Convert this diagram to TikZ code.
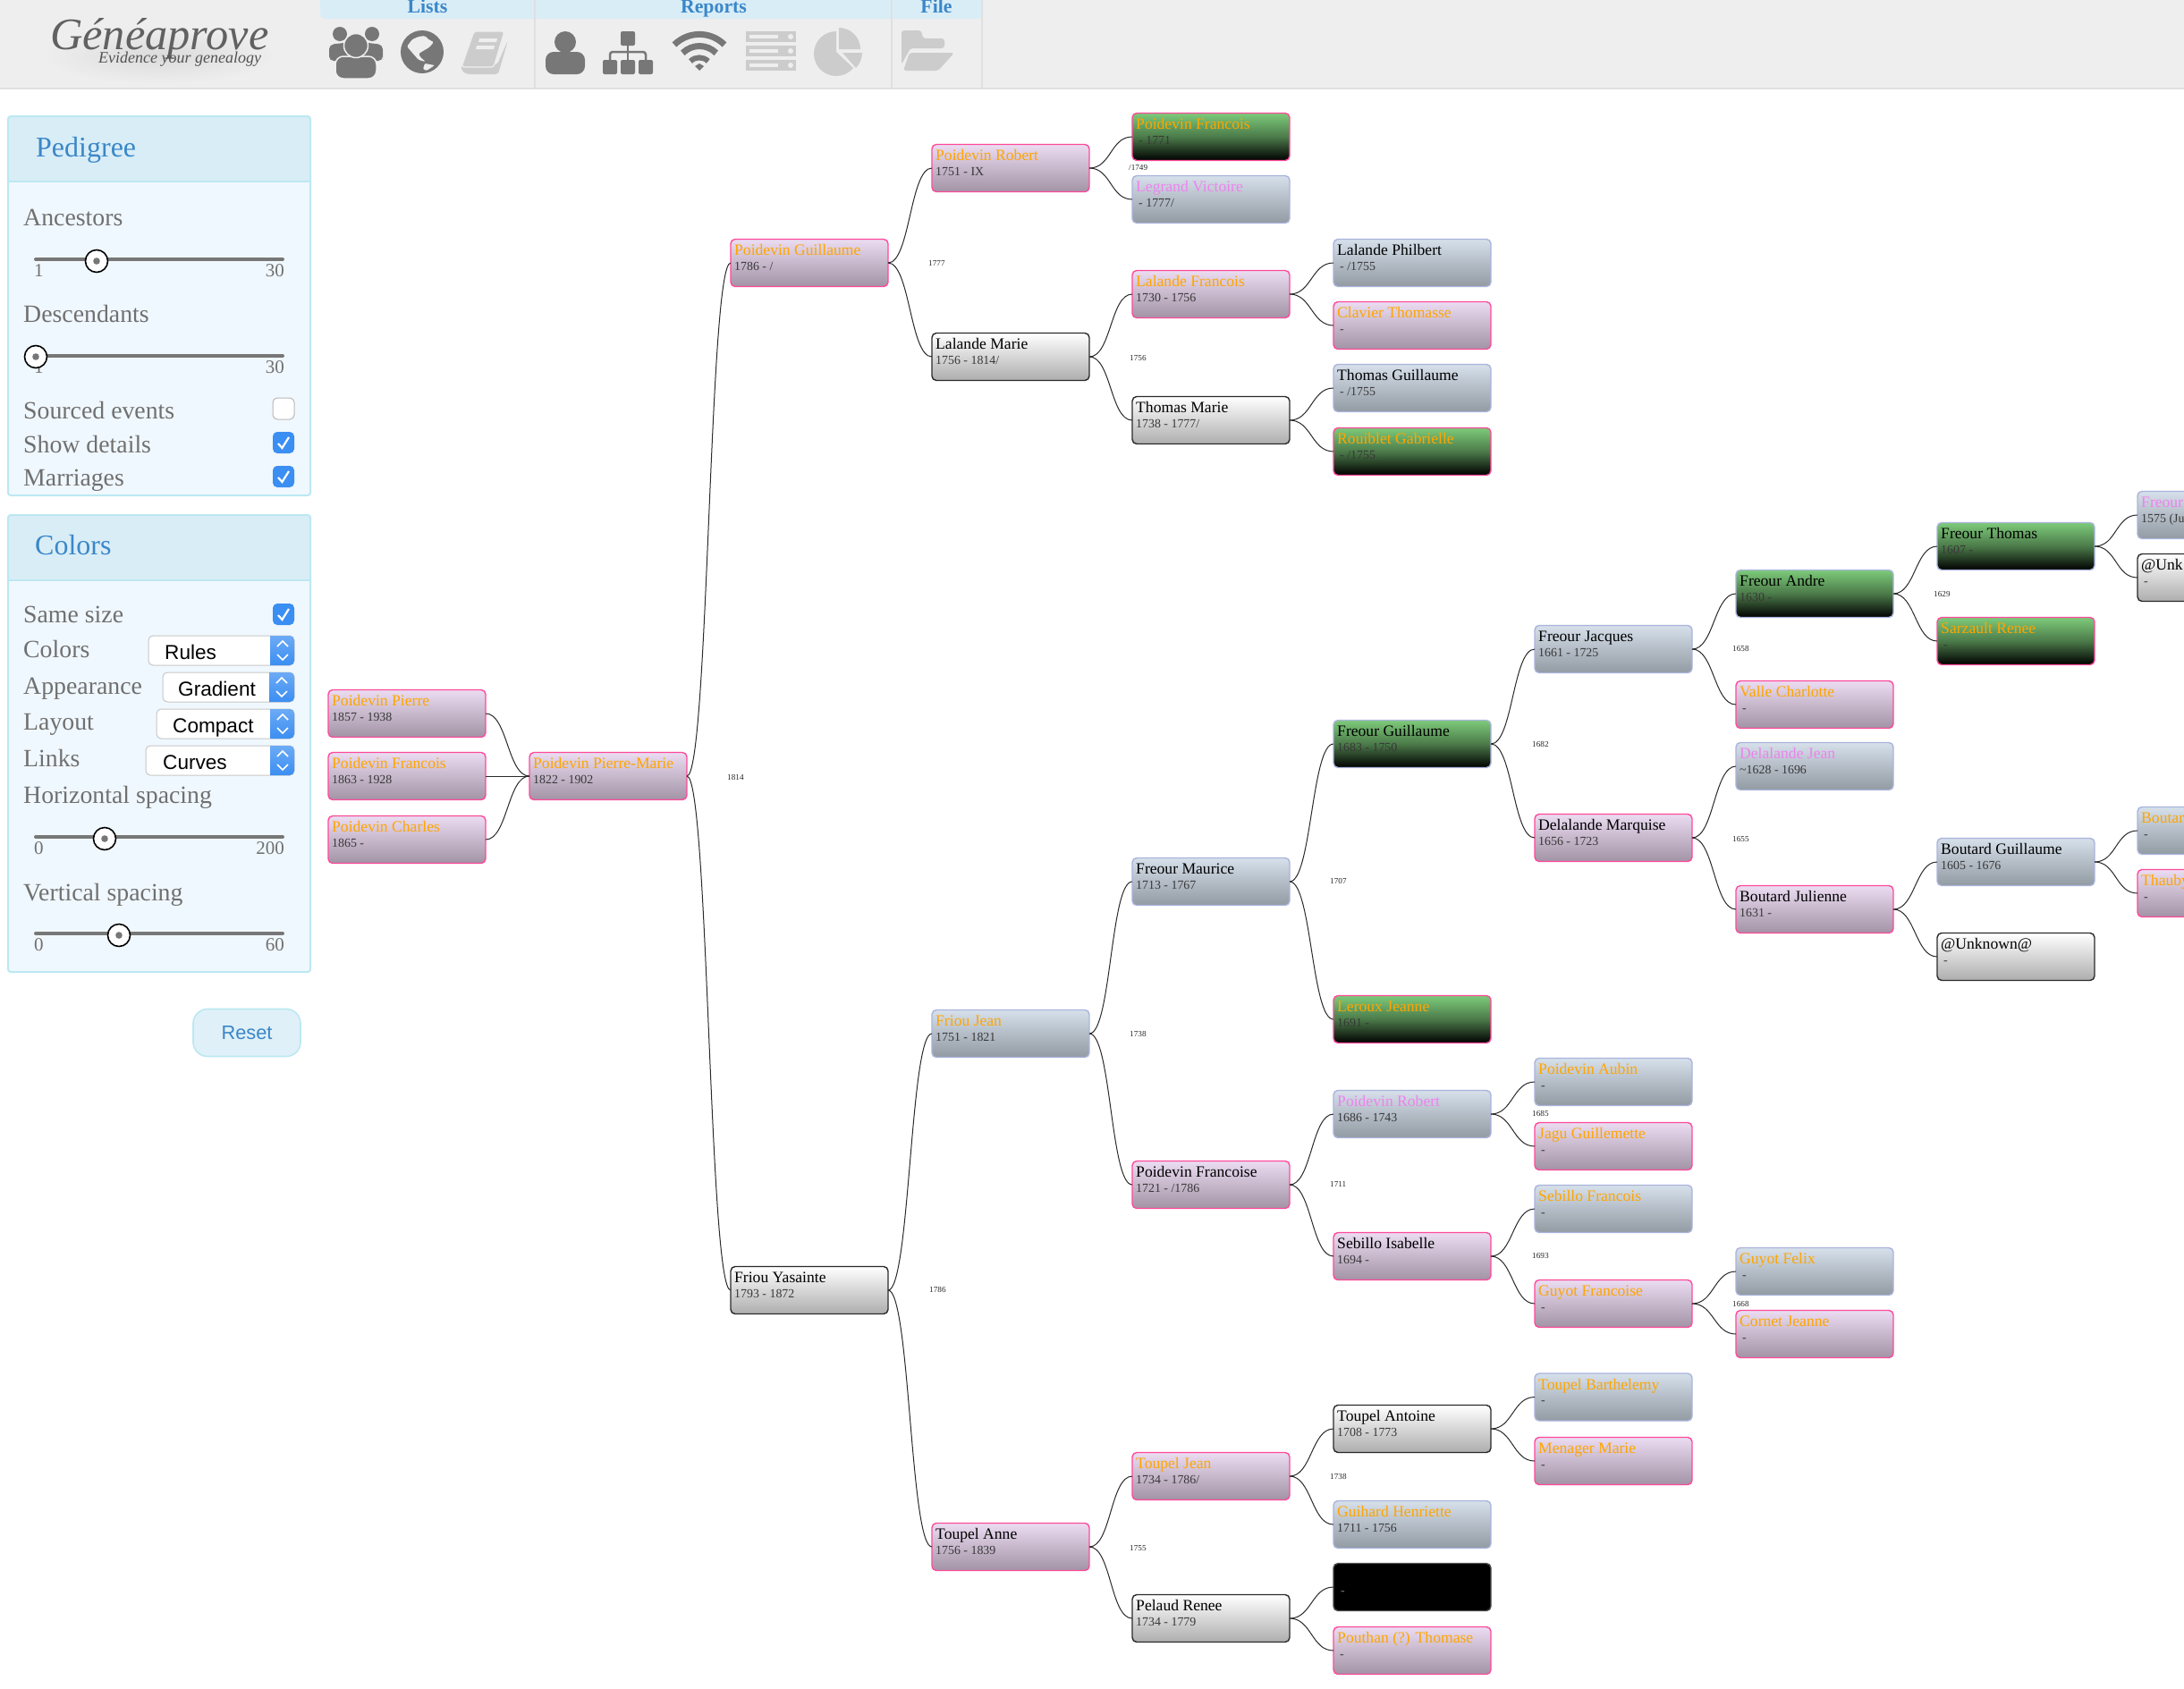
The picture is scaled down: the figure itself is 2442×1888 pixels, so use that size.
\documentclass[tikz,border=0pt]{standalone}
\usepackage{fontspec}
\setmainfont{Liberation Serif}
\newfontfamily\uisans{Liberation Sans}
\newcommand{\fsz}[1]{\fontsize{#1pt}{#1pt}\selectfont}
\newcommand{\ind}{\kern3pt}
\definecolor{tabblue}{HTML}{D9EDF7}
\definecolor{panelbg}{HTML}{F0F8FF}
\definecolor{panelln}{HTML}{BCE8F1}
\definecolor{linkblue}{HTML}{3A87C8}
\definecolor{hdrbg}{HTML}{EEEEEE}
\definecolor{hdrln}{HTML}{E0E0E0}
\definecolor{icodark}{HTML}{777777}
\definecolor{icolite}{HTML}{CCCCCC}
\definecolor{uitext}{HTML}{707070}
\definecolor{cbblue}{HTML}{3B8EF2}
\definecolor{orng}{HTML}{FFA500}
\definecolor{viol}{HTML}{EE82EE}
\definecolor{pinkln}{HTML}{FF4A9A}
\definecolor{lavln}{HTML}{AAB4DC}
\definecolor{purtop}{HTML}{EBDCF2}
\definecolor{purbot}{HTML}{A293A5}
\definecolor{blutop}{HTML}{D6E0EB}
\definecolor{blubot}{HTML}{929AA2}
\definecolor{grntop}{HTML}{7DCB7A}
\definecolor{lnk}{HTML}{2A2A2A}
\tikzset{
  base box/.style={rectangle,rounded corners=5pt,minimum width=176pt,minimum height=53pt,inner sep=0pt,outer sep=0pt,line width=1.4pt,anchor=west},
  pkbox/.style={base box,draw=pinkln,top color=purtop,bottom color=purbot},
  blbox/.style={base box,draw=lavln,top color=blutop,bottom color=blubot},
  gybox/.style={base box,draw=lnk,top color=white,bottom color=black!32},
  grp/.style={base box,draw=pinkln,top color=grntop,bottom color=black,middle color=grntop!60!black},
  grb/.style={base box,draw=lavln,top color=grntop,bottom color=black,middle color=grntop!60!black},
  blk/.style={base box,draw=black!70,fill=black},
  nametxt/.style={inner sep=0pt,anchor=base west,font=\fsz{17.6}},
  datetxt/.style={inner sep=0pt,anchor=base west,font=\fsz{13.9},text=black!78},
  mtxt/.style={inner sep=0pt,anchor=base west,font=\fsz{9.2},text=black!85},
  link/.style={draw=lnk,line width=1pt},
  ui/.style={inner sep=0pt,anchor=base west,text=uitext,font=\fsz{27.8}},
  uis/.style={inner sep=0pt,text=uitext,font=\fsz{21}},
  ptitle/.style={inner sep=0pt,anchor=base west,text=linkblue,font=\fsz{32}},
  tabt/.style={inner sep=0pt,anchor=base,text=linkblue,font=\bfseries\fsz{21.8}},
  seltxt/.style={inner sep=0pt,anchor=base west,text=black,font=\uisans\fsz{22.6}},
  panelbox/.style={draw=panelln,line width=2pt,rounded corners=3pt},
}
% person box: id, left x, centre y, style, name colour, name, date
\newcommand{\pb}[7]{%
  \node[#4] (#1) at (#2,#3) {};
  \node[nametxt,text=#5] (#1n) at (#2+4,#3-8.5) {#6};
  \node[datetxt] (#1d) at (#2+4,#3+8) {#7};
}
\newcommand{\lk}[2]{\draw[link] (#1.east) .. controls +(24.5,0) and +(-24.5,0) .. (#2.west);}
\newcommand{\mg}[4]{\node[mtxt] (#1) at (#2,#3+4.5) {#4};}
\newcommand{\slid}[7]{% id,tracky,knobx,knoby,labely,lo,hi
  \draw[icodark,line width=4pt,line cap=round] (40,#2) -- (316,#2);
  \node[uis,anchor=base west] (#1lo) at (38,#5) {#6};
  \node[uis,anchor=base east] (#1hi) at (318,#5) {#7};
  \filldraw[fill=white,draw=black,line width=1.6pt] (#3,#4) circle[radius=12.5pt];
  \fill[icodark] (#3,#4) circle[radius=3.8pt];
}
\newcommand{\chk}[2]{% top y, on/off
  \ifnum#2=1
   \fill[cbblue,rounded corners=5pt] (305,#1) rectangle (329,#1+24);
   \draw[white,line width=2.2pt] (311,#1+13) -- (315.5,#1+18) -- (323,#1+6);
  \else
   \filldraw[fill=white,draw=black!28,line width=1pt,rounded corners=5pt] (305,#1) rectangle (329,#1+24);
  \fi
}
\newcommand{\sel}[6]{% id,left x,top y,bluex,textx,text ; height 33
  \filldraw[fill=white,draw=black!22,line width=1pt,rounded corners=5pt] (#2,#3) rectangle (329,#3+33);
  \shade[top color=cbblue!75,bottom color=cbblue!100!black] (#4,#3) [rounded corners=5pt] -- (329,#3) -- (329,#3+33) [sharp corners] -- (#4,#3+33) -- cycle;
  \draw[white,line width=1.6pt] (#4+8,#3+12) -- (#4+14,#3+6) -- (#4+20,#3+12);
  \draw[white,line width=1.6pt] (#4+8,#3+21) -- (#4+14,#3+27) -- (#4+20,#3+21);
  \node[seltxt] (#1) at (#5,#3+26) {#6};
}
\begin{document}
\begin{tikzpicture}[x=1pt,y=-1pt]
\useasboundingbox (0,0) rectangle (2442,1888);
\clip (0,0) rectangle (2442,1888);
\fill[white] (0,0) rectangle (2442,1888);
% ---------- header
\fill[hdrbg] (0,0) rectangle (2442,98);
\fill[hdrln] (0,98) rectangle (2442,100);
\fill[tabblue,rounded corners=6pt] (358,-10) rectangle (1099,21);
\draw[hdrln,line width=1.5pt] (598,0) -- (598,98);
\draw[hdrln,line width=1.5pt] (997,0) -- (997,98);
\draw[hdrln,line width=1.5pt] (1098,0) -- (1098,98);
\node[tabt] (tabLists) at (478,14) {Lists};
\node[tabt] (tabReports) at (798,14) {Reports};
\node[tabt] (tabFile) at (1047,14) {File};
% logo
\shade[inner color=black!14,outer color=hdrbg] (178,62) ellipse[x radius=130pt,y radius=32pt];
\node[inner sep=0pt,anchor=base west,text=black!62,font=\itshape\fsz{50.4}] (logo) at (56,55) {Généaprove};
\node[inner sep=0pt,anchor=base west,text=black!68,font=\itshape\fsz{18}] (logosub) at (110,70) {Evidence your genealogy};
% people icon
\fill[icodark] (380,38) circle[radius=8pt];
\fill[icodark] (416,38) circle[radius=8pt];
\fill[icodark,rounded corners=5pt] (368,68) -- (368,50) -- (392,47) -- (404,47) -- (428,50) -- (428,62) -- (428,68) -- cycle;
\filldraw[fill=icodark,draw=hdrbg,line width=1.5pt,rounded corners=9pt] (375,88) -- (375,63) -- (421,63) -- (421,88) -- cycle;
\filldraw[fill=icodark,draw=hdrbg,line width=1.5pt] (398,51) circle[radius=13.5pt];
% globe icon
\fill[icodark] (472,58) circle[radius=24pt];
\fill[hdrbg,rounded corners=1.5pt] (455,52) -- (461,44) -- (468,41) -- (475,40) -- (479,44) -- (485,47) -- (480,53) -- (473,57) -- (468,60) -- (470,64) -- (476,69) -- (468,67) -- (461,59) -- cycle;
\fill[hdrbg,rounded corners=1pt] (475,71) -- (486,73) -- (477,79) -- (473,77) -- cycle;
% book icon
\fill[icolite,rounded corners=3pt] (568,45) -- (557,83) -- (522,83) -- (516,79) -- (516,72) -- (556,72) -- cycle;
\filldraw[fill=icolite,draw=hdrbg,line width=1.2pt,rounded corners=3pt] (530,35) -- (564,35) -- (552,75) -- (516,75) -- cycle;
\fill[hdrbg] (536,43) -- (556,43) -- (555,47) -- (535,47) -- cycle;
\fill[hdrbg] (533,51) -- (553,51) -- (552,55) -- (532,55) -- cycle;
% person icon
\fill[icodark] (632,47) circle[radius=12pt];
\fill[icodark,rounded corners=9pt] (610,83) -- (610,58) -- (654,58) -- (654,83) -- cycle;
% org icon
\fill[icodark,rounded corners=2pt] (694,35) rectangle (710,51);
\fill[icodark,rounded corners=2pt] (674,67) rectangle (690,83);
\fill[icodark,rounded corners=2pt] (694,67) rectangle (710,83);
\fill[icodark,rounded corners=2pt] (714,67) rectangle (730,83);
\draw[icodark,line width=2.5pt] (702,50) -- (702,68);
\draw[icodark,line width=2.5pt,rounded corners=3pt] (682,68) -- (682,58) -- (722,58) -- (722,68);
% wifi icon
\draw[icodark,line width=7pt] (754,50) arc[start angle=135,end angle=45,radius=39.6pt];
\draw[icodark,line width=7pt] (763.3,59.3) arc[start angle=135,end angle=45,radius=26.5pt];
\draw[icodark,line width=6pt] (772,68.5) arc[start angle=135,end angle=45,radius=14pt];
\fill[icodark] (777,74) -- (782,71) -- (787,74) -- (782,79) -- cycle;
% server icon
\foreach \ry in {35,51,67}{
  \fill[icolite] (834,\ry) rectangle (890,\ry+12);
  \fill[hdrbg] (838,\ry+4) rectangle (870,\ry+8);
  \fill[hdrbg] (884,\ry+6) circle[radius=3pt];
}
% pie icon
\fill[icolite] (935,35) arc[start angle=90,end angle=270,radius=25pt] arc[start angle=270,end angle=320,radius=25pt] -- (935,58) -- cycle;
\fill[icolite] (938,31) arc[start angle=90,end angle=0,radius=24pt] -- (938,55) -- cycle;
\fill[icolite] (942,59) -- (964,59) arc[start angle=0,end angle=-45,radius=24pt] -- cycle;
% folder icon
\fill[icolite,rounded corners=3pt] (1008,72) -- (1008,34) -- (1030,34) -- (1032,43) -- (1056,43) -- (1056,54) -- (1018,54) -- cycle;
\fill[icolite,rounded corners=3pt] (1017,59) -- (1067,59) -- (1049,79) -- (1010,79) -- cycle;
% ---------- pedigree panel
\fill[panelbg,rounded corners=3pt] (9,130) rectangle (347,554);
\fill[tabblue,rounded corners=3pt] (9,130) rectangle (347,203);
\draw[panelln,line width=2pt] (9,203) -- (347,203);
\draw[panelbox] (9,130) rectangle (347,554);
\node[ptitle] (tPed) at (40,175) {Pedigree};
\node[ui] (lAnc) at (26,252) {Ancestors};
\slid{sa}{290}{108}{292}{309}{1}{30}
\node[ui] (lDes) at (26,360) {Descendants};
\slid{sd}{398}{40}{399}{417}{1}{30}
\node[ui] (lSrc) at (26,468) {Sourced events};
\chk{445}{0}
\node[ui] (lShw) at (26,506) {Show details};
\chk{483}{1}
\node[ui] (lMar) at (26,543) {Marriages};
\chk{521}{1}
% ---------- colors panel
\fill[panelbg,rounded corners=3pt] (9,576) rectangle (347,1087);
\fill[tabblue,rounded corners=3pt] (9,576) rectangle (347,649);
\draw[panelln,line width=2pt] (9,649) -- (347,649);
\draw[panelbox] (9,576) rectangle (347,1087);
\node[ptitle] (tCol) at (39,620) {Colors};
\node[ui] (lSame) at (26,696) {Same size};
\chk{675}{1}
\node[ui] (lCol) at (26,735) {Colors};
\sel{sR}{166}{711}{302}{184}{Rules}
\node[ui] (lApp) at (26,776) {Appearance};
\sel{sG}{182}{752}{301}{199}{Gradient}
\node[ui] (lLay) at (26,816) {Layout};
\sel{sC}{175}{793}{302}{193}{Compact}
\node[ui] (lLnk) at (26,857) {Links};
\sel{sL}{163}{834}{302}{182}{Curves}
\node[ui] (lHor) at (26,898) {Horizontal spacing};
\slid{sh}{936}{117}{938}{955}{0}{200}
\node[ui] (lVer) at (26,1007) {Vertical spacing};
\slid{sv}{1044}{133}{1046}{1063}{0}{60}
\node[draw=panelln,fill=tabblue!85!white,line width=1.6pt,rounded corners=16pt,minimum width=120pt,minimum height=53pt,inner sep=0pt,text=linkblue,font=\uisans\fsz{21.8}] (reset) at (276,1155) {Reset};
% ---------- persons
\pb{Pa}{367}{798}{pkbox}{orng}{Poidevin Pierre}{1857 - 1938}
\pb{Pb}{367}{868}{pkbox}{orng}{Poidevin Francois}{1863 - 1928}
\pb{Pc}{367}{939}{pkbox}{orng}{Poidevin Charles}{1865 -}
\pb{PM}{592}{868}{pkbox}{orng}{Poidevin Pierre-Marie}{1822 - 1902}
\pb{PG}{817}{294}{pkbox}{orng}{Poidevin Guillaume}{1786 - /}
\pb{FY}{817}{1443}{gybox}{black}{Friou Yasainte}{1793 - 1872}
\pb{PR}{1042}{188}{pkbox}{orng}{Poidevin Robert}{1751 - IX}
\pb{LM}{1042}{399}{gybox}{black}{Lalande Marie}{1756 - 1814/}
\pb{FJ}{1042}{1156}{blbox}{orng}{Friou Jean}{1751 - 1821}
\pb{TA}{1042}{1730}{pkbox}{black}{Toupel Anne}{1756 - 1839}
\pb{PF}{1266}{153}{grp}{orng}{Poidevin Francois}{\ind - 1771}
\pb{LV}{1266}{223}{blbox}{viol}{Legrand Victoire}{\ind - 1777/}
\pb{LF}{1266}{329}{pkbox}{orng}{Lalande Francois}{1730 - 1756}
\pb{TM}{1266}{470}{gybox}{black}{Thomas Marie}{1738 - 1777/}
\pb{FM}{1266}{986}{blbox}{black}{Freour Maurice}{1713 - 1767}
\pb{Pf}{1266}{1325}{pkbox}{black}{Poidevin Francoise}{1721 - /1786}
\pb{TJ}{1266}{1651}{pkbox}{orng}{Toupel Jean}{1734 - 1786/}
\pb{PE}{1266}{1810}{gybox}{black}{Pelaud Renee}{1734 - 1779}
\pb{LP}{1491}{294}{blbox}{black}{Lalande Philbert}{\ind - /1755}
\pb{CT}{1491}{364}{pkbox}{orng}{Clavier Thomasse}{\ind -}
\pb{TG}{1491}{434}{blbox}{black}{Thomas Guillaume}{\ind - /1755}
\pb{RG}{1491}{505}{grp}{orng}{Rouiblet Gabrielle}{\ind - /1755}
\pb{FG}{1491}{832}{grb}{black}{Freour Guillaume}{1683 - 1750}
\pb{LJ}{1491}{1140}{grp}{orng}{Leroux Jeanne}{1691 -}
\pb{RR}{1491}{1246}{blbox}{viol}{Poidevin Robert}{1686 - 1743}
\pb{SI}{1491}{1405}{pkbox}{black}{Sebillo Isabelle}{1694 -}
\pb{TN}{1491}{1598}{gybox}{black}{Toupel Antoine}{1708 - 1773}
\pb{GH}{1491}{1705}{blbox}{orng}{Guihard Henriette}{1711 - 1756}
\node[blk] (BK) at (1491,1775) {};
\node[datetxt,text=black!50] (BKd) at (1499,1783) {-};
\pb{PT}{1491}{1846}{pkbox}{orng}{Pouthan (?) Thomase}{\ind -}
\pb{FZ}{1716}{726}{blbox}{black}{Freour Jacques}{1661 - 1725}
\pb{DM}{1716}{937}{pkbox}{black}{Delalande Marquise}{1656 - 1723}
\pb{PA}{1716}{1210}{blbox}{orng}{Poidevin Aubin}{\ind -}
\pb{JG}{1716}{1282}{pkbox}{orng}{Jagu Guillemette}{\ind -}
\pb{SF}{1716}{1352}{blbox}{orng}{Sebillo Francois}{\ind -}
\pb{GF}{1716}{1458}{pkbox}{orng}{Guyot Francoise}{\ind -}
\pb{TB}{1716}{1562.5}{blbox}{orng}{Toupel Barthelemy}{\ind -}
\pb{MM}{1716}{1634}{pkbox}{orng}{Menager Marie}{\ind -}
\pb{FA}{1941}{664}{grb}{black}{Freour Andre}{1630 -}
\pb{VC}{1941}{788}{pkbox}{orng}{Valle Charlotte}{\ind -}
\pb{DJ}{1941}{857}{blbox}{viol}{Delalande Jean}{\textasciitilde 1628 - 1696}
\pb{BJ}{1941}{1017}{pkbox}{black}{Boutard Julienne}{1631 -}
\pb{GX}{1941}{1422}{blbox}{orng}{Guyot Felix}{\ind -}
\pb{CJ}{1941}{1492}{pkbox}{orng}{Cornet Jeanne}{\ind -}
\pb{FT}{2166}{611}{grb}{black}{Freour Thomas}{1607 -}
\pb{SR}{2166}{717}{grp}{orng}{Sarzault Renee}{\ind -}
\pb{BG}{2166}{964}{blbox}{black}{Boutard Guillaume}{1605 - 1676}
\pb{UU}{2166}{1070}{gybox}{black}{@Unknown@}{\ind -}
\pb{FR}{2390}{576}{blbox}{viol}{Freour}{1575 (Ju}
\pb{UV}{2390}{646}{gybox}{black}{@Unk}{\ind -}
\pb{BO}{2390}{929}{blbox}{orng}{Boutar}{\ind -}
\pb{TH}{2390}{999}{pkbox}{orng}{Thauby}{\ind -}
% ---------- links
\lk{Pa}{PM}\lk{Pb}{PM}\lk{Pc}{PM}
\lk{PM}{PG}\lk{PM}{FY}
\lk{PG}{PR}\lk{PG}{LM}
\lk{FY}{FJ}\lk{FY}{TA}
\lk{PR}{PF}\lk{PR}{LV}
\lk{LM}{LF}\lk{LM}{TM}
\lk{FJ}{FM}\lk{FJ}{Pf}
\lk{TA}{TJ}\lk{TA}{PE}
\lk{LF}{LP}\lk{LF}{CT}
\lk{TM}{TG}\lk{TM}{RG}
\lk{FM}{FG}\lk{FM}{LJ}
\lk{Pf}{RR}\lk{Pf}{SI}
\lk{TJ}{TN}\lk{TJ}{GH}
\lk{PE}{BK}\lk{PE}{PT}
\lk{FG}{FZ}\lk{FG}{DM}
\lk{RR}{PA}\lk{RR}{JG}
\lk{SI}{SF}\lk{SI}{GF}
\lk{TN}{TB}\lk{TN}{MM}
\lk{FZ}{FA}\lk{FZ}{VC}
\lk{DM}{DJ}\lk{DM}{BJ}
\lk{GF}{GX}\lk{GF}{CJ}
\lk{FA}{FT}\lk{FA}{SR}
\lk{BJ}{BG}\lk{BJ}{UU}
\lk{FT}{FR}\lk{FT}{UV}
\lk{BG}{BO}\lk{BG}{TH}
% ---------- marriage years
\mg{m1}{813}{868}{1814}
\mg{m2}{1262}{186}{/1749}
\mg{m3}{1038}{293}{1777}
\mg{m4}{1263}{399}{1756}
\mg{m5}{1263}{1155}{1738}
\mg{m6}{1039}{1441}{1786}
\mg{m7}{1263}{1730}{1755}
\mg{m8}{1487}{984}{1707}
\mg{m9}{1487}{1323}{1711}
\mg{m10}{1487}{1650}{1738}
\mg{m11}{1713}{831}{1682}
\mg{m12}{1713}{1244}{1685}
\mg{m13}{1713}{1403}{1693}
\mg{m14}{1937}{724}{1658}
\mg{m15}{1937}{937}{1655}
\mg{m16}{1937}{1457}{1668}
\mg{m17}{2162}{663}{1629}
\end{tikzpicture}
\end{document}
